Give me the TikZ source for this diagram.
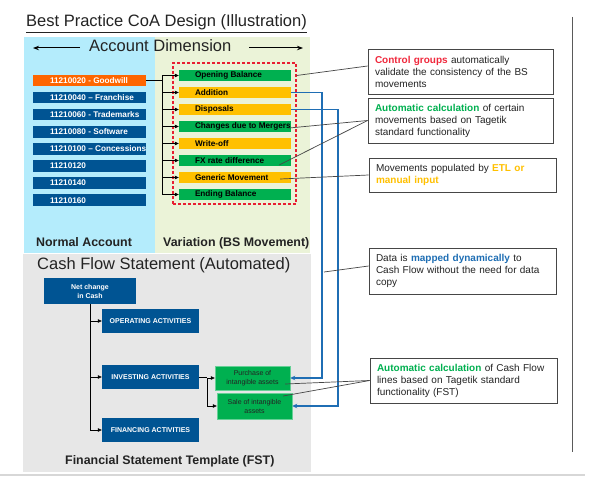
\documentclass[tikz,border=0pt]{standalone}
\usepackage{fontspec}
\setmainfont{Liberation Sans}
\usetikzlibrary{arrows.meta,calc}
\definecolor{accblue}{RGB}{0,84,147}
\definecolor{goodor}{RGB}{255,102,0}
\definecolor{mvgreen}{RGB}{0,176,80}
\definecolor{mvyellow}{RGB}{255,192,0}
\definecolor{bglblue}{RGB}{180,236,252}
\definecolor{bglgreen}{RGB}{235,243,216}
\definecolor{bggray}{RGB}{231,231,231}
\definecolor{lnblue}{RGB}{31,110,180}
\definecolor{ctred}{RGB}{240,40,60}
\definecolor{dashred}{RGB}{232,30,50}
\definecolor{boxgray}{RGB}{70,70,70}
\definecolor{txtdark}{RGB}{35,35,35}
\definecolor{hlblue}{RGB}{30,110,180}
\definecolor{rulegray}{RGB}{215,215,215}
\definecolor{vgray}{RGB}{90,90,90}
\newcommand\lbox[2]{\makebox[#1][l]{#2}}
\begin{document}
\begin{tikzpicture}[x=1pt,y=-1pt,
  acc/.style={fill=accblue, text=white, minimum width=113pt, minimum height=11.5pt,
    inner xsep=17pt, inner ysep=0pt, font=\fontsize{8.2}{9}\selectfont\bfseries},
  mv/.style={minimum width=112pt, minimum height=11.5pt, inner xsep=16pt, inner ysep=0pt,
    font=\fontsize{8.2}{9}\selectfont\bfseries, text=black},
  mvg/.style={mv, fill=mvgreen},
  mvy/.style={mv, fill=mvyellow},
  cf/.style={fill=accblue, text=white, font=\fontsize{7}{9}\selectfont\bfseries,
    minimum width=97pt, minimum height=24pt, inner sep=0pt, align=center},
  sub/.style={fill=mvgreen, draw=mvgreen!60, line width=0.4pt, text=txtdark,
    font=\fontsize{7}{9}\selectfont, minimum width=75pt, align=center, inner sep=0pt},
  callout/.style={draw=boxgray, line width=0.8pt, fill=white, text=txtdark,
    font=\fontsize{10}{12}\selectfont, align=left, inner xsep=7pt, inner ysep=0pt},
  head/.style={font=\fontsize{16.5}{19}\selectfont, text=txtdark, inner sep=0pt},
  lab/.style={font=\fontsize{12.4}{14}\selectfont\bfseries, text=txtdark, inner sep=0pt},
  arr/.style={-{Triangle[length=4pt,width=3.5pt]}, line width=0.6pt, black},
  darr/.style={-{Stealth[length=6pt,width=4.5pt]}, line width=1pt, black},
  blueln/.style={draw=lnblue, line width=1.2pt, -{Stealth[length=5pt,width=4.5pt]}},
  callln/.style={draw=boxgray, line width=0.7pt}
]
\useasboundingbox (0,0) rectangle (595,487);
\fill[white] (0,0) rectangle (595,487);
% backgrounds
\fill[bglblue] (24,37) rectangle (155,253);
\fill[bglgreen] (155,37) rectangle (310,253);
\fill[bggray] (23,254) rectangle (311,472);
% frame lines
\draw[rulegray, line width=2pt] (0,475) -- (585,475);
\draw[vgray, line width=1pt] (572,17) -- (572,452);
% titles
\node[head, anchor=base west] (title) at (26,27) {\underline{Best Practice CoA Design (Illustration)}};
\node[head, anchor=base west] (adim) at (89,51.5) {Account Dimension};
\coordinate (adL1) at (80,48); \coordinate (adL2) at (33,48);
\coordinate (adR1) at (249,48); \coordinate (adR2) at (303,48);
\draw[darr] (adL1) -- (adL2);
\draw[darr] (adR1) -- (adR2);
\node[lab, anchor=base west] (normal) at (36,246) {Normal Account};
\node[lab, anchor=base west] (variation) at (163,246) {Variation (BS Movement)};
\node[head, anchor=base west] (cfs) at (37,269) {Cash Flow Statement (Automated)};
\node[lab, anchor=base west] (fst) at (65,464) {Financial Statement Template (FST)};
% accounts
\node[acc, fill=goodor] (a1) at (89.5,80.5) {\lbox{79pt}{11210020 - Goodwill}};
\node[acc] (a2) at (89.5,97.6) {\lbox{79pt}{11210040 – Franchise}};
\node[acc] (a3) at (89.5,114.7) {\lbox{79pt}{11210060 - Trademarks}};
\node[acc] (a4) at (89.5,131.8) {\lbox{79pt}{11210080 - Software}};
\node[acc] (a5) at (89.5,148.9) {\lbox{79pt}{11210100 – Concessions}};
\node[acc] (a6) at (89.5,166) {\lbox{79pt}{11210120}};
\node[acc] (a7) at (89.5,183.1) {\lbox{79pt}{11210140}};
\node[acc] (a8) at (89.5,200.2) {\lbox{79pt}{11210160}};
% dashed control box
\node[draw=dashred, dash pattern=on 3pt off 2pt, line width=1.2pt, minimum width=123pt,
  minimum height=141pt, inner sep=0pt] (dbox) at (234.5,133.5) {};
% movements
\node[mvg] (m1) at (235,75.5) {\lbox{80pt}{Opening Balance}};
\node[mvy] (m2) at (235,92.5) {\lbox{80pt}{Addition}};
\node[mvy] (m3) at (235,109.5) {\lbox{80pt}{Disposals}};
\node[mvg] (m4) at (235,126.5) {\lbox{80pt}{Changes due to Mergers}};
\node[mvy] (m5) at (235,143.5) {\lbox{80pt}{Write-off}};
\node[mvg] (m6) at (235,160.5) {\lbox{80pt}{FX rate difference}};
\node[mvy] (m7) at (235,177.5) {\lbox{80pt}{Generic Movement}};
\node[mvg] (m8) at (235,194.5) {\lbox{80pt}{Ending Balance}};
% bracket from goodwill
\coordinate (bus) at (162,80.5);
\draw[line width=0.6pt] (a1.east) -- (bus);
\draw[line width=0.6pt] (bus |- m1.west) -- (bus |- m8.west);
\foreach \m in {m1,m2,m3,m4,m5,m6,m7,m8}{
  \draw[arr] (bus |- \m.west) -- (\m.west);
}
% cash flow
\node[cf, minimum width=92pt, minimum height=26pt] (net) at (90,291) {Net change\\in Cash};
\node[cf] (op) at (150.5,321) {OPERATING ACTIVITIES};
\node[cf] (inv) at (150.5,377) {INVESTING ACTIVITIES};
\node[cf] (fin) at (150.5,430) {FINANCING ACTIVITIES};
\draw[line width=0.6pt] (net.south) -- (net.south |- fin.west);
\foreach \n in {op,inv,fin}{
  \draw[arr] (net.south |- \n.west) -- (\n.west);
}
\node[sub, minimum height=24pt] (pur) at (252.5,378) {Purchase of\\intangible assets};
\node[sub, minimum height=26pt] (sale) at (254.5,406) {Sale of intangible\\assets};
\coordinate (ibus) at (207,377);
\draw[line width=0.6pt] (inv.east) -- (ibus);
\draw[line width=0.6pt] (ibus |- pur.west) -- (ibus |- sale.west);
\draw[arr] (ibus |- pur.west) -- (pur.west);
\draw[arr] (ibus |- sale.west) -- (sale.west);
% blue mapping lines
\coordinate (bl1) at (322,92.5);
\coordinate (bl2) at (338,109.5);
\draw[blueln] (m2.east) -- (bl1) |- (pur.east);
\draw[blueln] (m3.east) -- (bl2) |- (sale.east);
% callouts
\node[callout, text width=171pt, minimum height=45pt] (c1) at (460.5,71.5)
  {\textcolor{ctred}{\textbf{Control groups}} automatically\\validate the consistency of the BS\\movements};
\node[callout, text width=171pt, minimum height=45pt] (c2) at (460.5,120.5)
  {\textcolor{mvgreen}{\textbf{Automatic calculation}} of certain\\movements based on Tagetik\\standard functionality};
\node[callout, text width=173pt, minimum height=34pt] (c3) at (462.5,175)
  {Movements populated by \textcolor{mvyellow}{\textbf{ETL or}}\\\textcolor{mvyellow}{\textbf{manual input}}};
\node[callout, text width=173pt, minimum height=46pt] (c4) at (462.5,271)
  {Data is \textcolor{hlblue}{\textbf{mapped dynamically}} to\\Cash Flow without the need for data\\copy};
\node[callout, text width=173pt, minimum height=45pt] (c5) at (463.5,380.5)
  {\textcolor{mvgreen}{\textbf{Automatic calculation}} of Cash Flow\\lines based on Tagetik standard\\functionality (FST)};
% callout lines
\draw[callln] ([yshift=5.5pt]c1.west) -- (dbox.east |- m1.east);
\draw[callln] (c2.west) -- ([xshift=-2pt,yshift=-1.5pt]m4.east);
\draw[callln] (c2.west) -- ([xshift=-12pt,yshift=-4.5pt]m6.east);
\draw[callln] (c3.west) -- ([xshift=-11pt,yshift=-1.5pt]m7.east);
\coordinate (c4end) at (324,272);
\draw[callln] ([yshift=5pt]c4.west) -- (c4end);
\draw[callln] (c5.west) -- ([xshift=-5pt,yshift=-6pt]pur.east);
\draw[callln] (c5.west) -- ([xshift=-9pt,yshift=10pt]sale.east);
\end{tikzpicture}
\end{document}
